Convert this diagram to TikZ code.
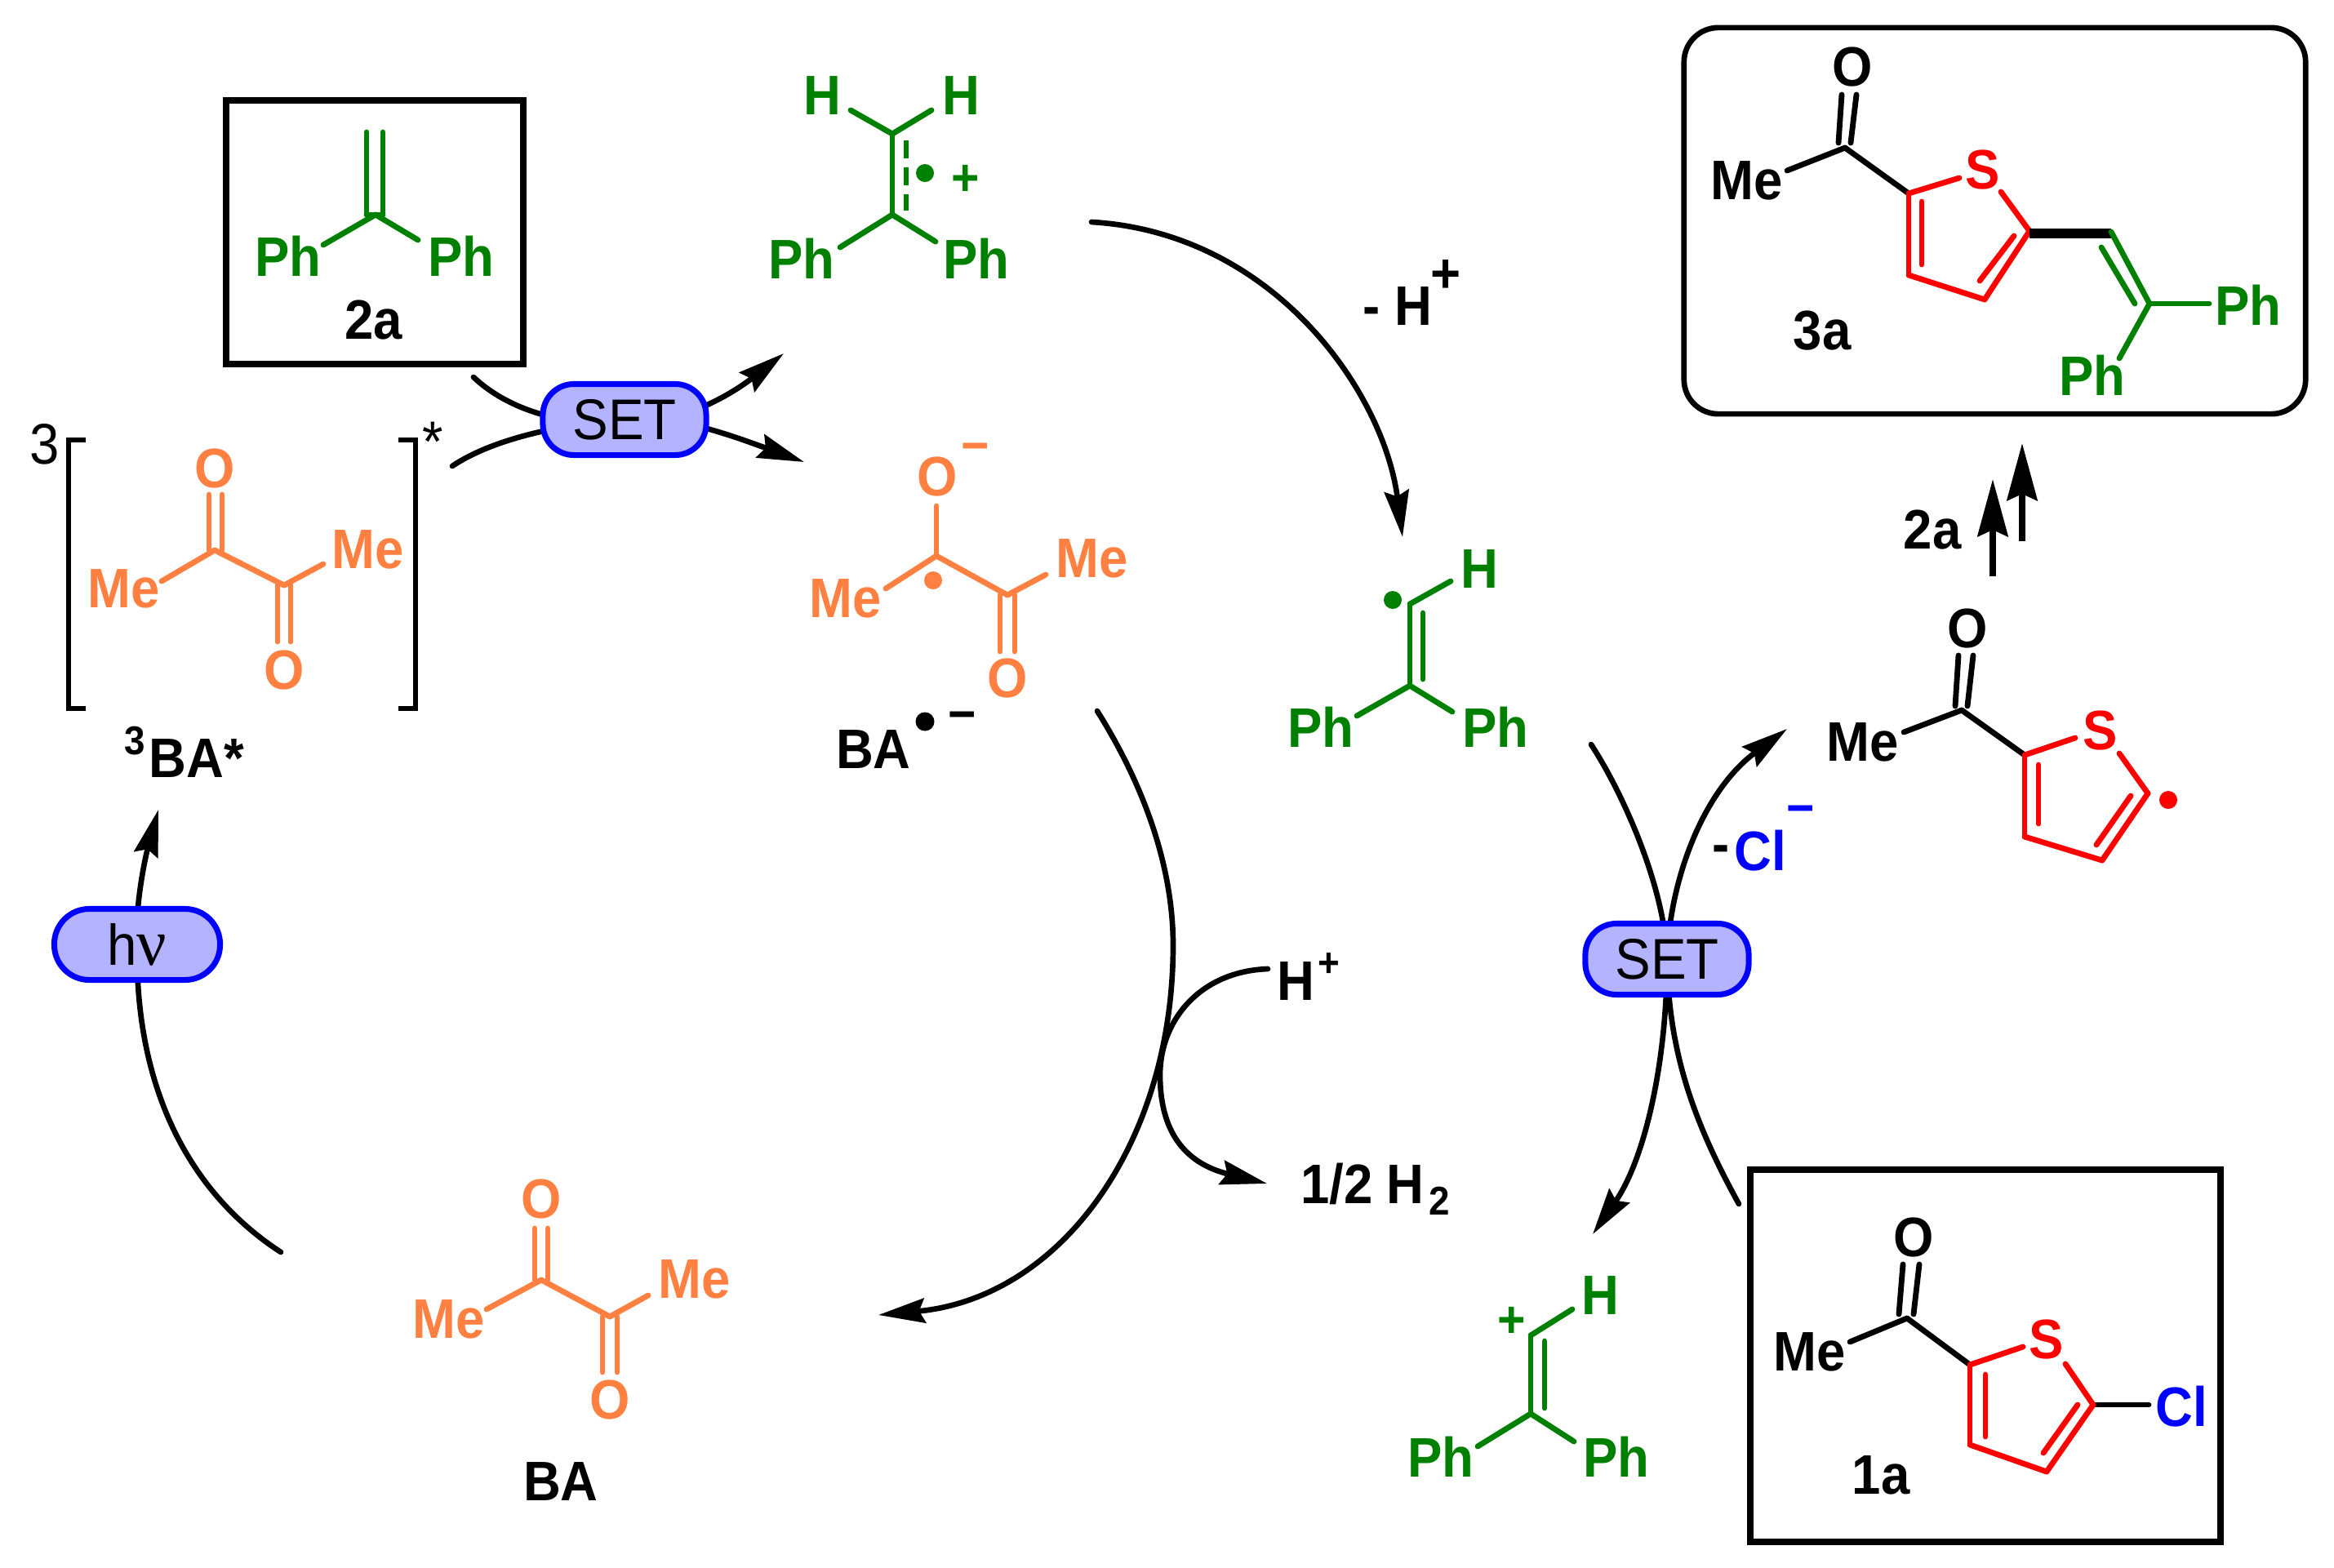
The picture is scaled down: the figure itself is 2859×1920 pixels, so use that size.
\documentclass[tikz,border=0pt]{standalone}
\usepackage{fontspec}
\usetikzlibrary{arrows.meta}
\newfontfamily\chemfont{Liberation Sans}[FakeStretch=0.93]
\newfontfamily\serifnu{Liberation Serif}
\definecolor{orng}{RGB}{255,128,64}
\definecolor{grn}{RGB}{0,128,0}
\definecolor{rd}{RGB}{255,0,0}
\definecolor{blu}{RGB}{0,0,255}
\definecolor{pillfill}{RGB}{179,179,255}
\newcommand\atoms[1]{\foreach \n/\x/\y in {#1} {\coordinate (\n) at (\x,\y);}}
\newcommand\bonds[2]{\foreach \a/\b in {#2} {\draw[bond,#1] (\a) -- (\b);}}
\tikzset{
 bond/.style={line width=1.95pt,line cap=round,line join=round},
 lab/.style={font=\chemfont\bfseries\fontsize{19.4}{19.4}\selectfont,inner sep=0pt,anchor=center},
 sm/.style={font=\chemfont\bfseries\fontsize{14}{14}\selectfont,inner sep=0pt},
 chg/.style={font=\chemfont\bfseries\fontsize{18}{18}\selectfont,inner sep=0pt},
 reg/.style={font=\chemfont\fontsize{20}{20}\selectfont,inner sep=0pt},
 dot/.style={circle,fill,inner sep=0pt,minimum size=0.22cm},
 pill/.style={draw=blu,fill=pillfill,line width=2pt,rounded corners=0.38cm,inner sep=0pt,minimum height=0.87cm},
 box/.style={draw=black,line width=2.2pt,inner sep=0pt},
 arc/.style={line width=1.9pt,line cap=round,-{Stealth[length=0.57cm,width=0.30cm,inset=0.07cm]}},
 arcn/.style={line width=1.9pt,line cap=round},
 strt/.style={line width=2.2pt,-{Stealth[length=0.70cm,width=0.37cm,inset=0.08cm]}}
}
\begin{document}
\begin{tikzpicture}[x=0.01cm,y=-0.01cm]
\useasboundingbox (0,0) rectangle (2859,1920);
% boxes
\node[box,minimum width=3.64cm,minimum height=3.23cm] (box2a) at (459,284.5) {};
\node[box,minimum width=5.76cm,minimum height=4.56cm] (box1a) at (2432,1661) {};
\node[box,line width=1.9pt,rounded corners=0.42cm,minimum width=7.61cm,minimum height=4.73cm] (box3a) at (2443.5,270.5) {};
% connectors
\atoms{set1c/765/514,set2c/2042/1175,hvc/168/1157,
 a1s/580/462,a2s/554/571,a1t/960/433,a2t/985/566,
 b1s/1337/272,b1t/1718/658,
 c1s/1344/871,c1m/1437/1158,c1t/1076/1611,
 d1s/1553/1187,d1m/1421/1317,d1t/1552/1450,
 e1s/344/1534,e1t/194/992,
 f1s/1949/912,f1t/2189/893,f2t/1951/1512,f2s/2130/1475,
 g1s/2441/706,g1t/2441/587,g2s/2477/663,g2t/2477/543}
\draw[arcn] (a1s) .. controls (620,500) and (690,525) .. (set1c);
\draw[arcn] (a2s) .. controls (600,540) and (680,520) .. (set1c);
\draw[arc] (set1c) .. controls (830,525) and (900,480) .. (a1t);
\draw[arc] (set1c) .. controls (820,505) and (900,535) .. (a2t);
\draw[arc] (b1s) .. controls (1560,285) and (1695,480) .. (b1t);
\draw[arc] (c1s) .. controls (1400,960) and (1437,1060) .. (c1m) .. controls (1437,1400) and (1300,1590) .. (c1t);
\draw[arc] (d1s) .. controls (1470,1190) and (1421,1250) .. (d1m) .. controls (1421,1385) and (1450,1425) .. (d1t);
\draw[arcn] (e1s) .. controls (230,1460) and (165,1330) .. (hvc);
\draw[arc] (hvc) .. controls (165,1110) and (178,1050) .. (e1t);
\draw[arcn] (f1s) .. controls (1990,975) and (2040,1090) .. (set2c);
\draw[arc] (set2c) .. controls (2045,1080) and (2085,970) .. (f1t);
\draw[arc] (set2c) .. controls (2042,1300) and (2015,1420) .. (f2t);
\draw[arcn] (f2s) .. controls (2075,1375) and (2044,1290) .. (set2c);
\draw[strt] (g1s) -- (g1t);
\draw[strt] (g2s) -- (g2t);
% pills
\node[pill,minimum width=2.0cm,reg] (set1) at (set1c) {SET};
\node[pill,minimum width=2.0cm,reg] (set2) at (set2c) {SET};
\node[pill,minimum width=2.03cm,reg,rounded corners=0.43cm] (hv) at (hvc) {h{\serifnu\fontsize{23}{23}\selectfont ν}};
% 2a
\atoms{p1/460/263,p2/449/162,p3/469/162,p4/449/263,p5/469/263,p6/396/300,p7/512/294}
\bonds{grn}{p2/p4,p3/p5,p1/p6,p1/p7,p4/p5}
\node[lab,grn] (ph1) at (353,314) {Ph};
\node[lab,grn] (ph2) at (565,314) {Ph};
\node[lab] (l2a) at (458,392) {2a};
% radical cation
\atoms{q1/1093/164,q2/1093/263,q3/1042/135,q4/1141/135,q5/1029/303,q6/1146/296,q7/1110/172,q8/1110/258}
\bonds{grn}{q1/q2,q1/q3,q1/q4,q2/q5,q2/q6}
\draw[bond,grn,line cap=butt,dash pattern=on 0.22cm off 0.11cm] (q7) -- (q8);
\node[lab,grn] (h1) at (1007,117) {H};
\node[lab,grn] (h2) at (1177,117) {H};
\node[lab,grn] (ph3) at (982,317) {Ph};
\node[lab,grn] (ph4) at (1196,317) {Ph};
\node[dot,grn] (dq) at (1133,212) {};
\node[chg,grn] (pq) at (1183,221) {+};
% 3BA*
\atoms{r1/263/674,r2/256/606,r3/272/606,r4/256/674,r5/272/674,r6/198/712,r7/348/717,r8/340/717,r9/356/717,r10/340/786,r11/356/786,r12/396/691}
\bonds{orng}{r2/r4,r3/r5,r1/r6,r1/r7,r8/r10,r9/r11,r7/r12}
\node[lab,orng] (o1) at (263,574) {O};
\node[lab,orng] (me1) at (152,721) {Me};
\node[lab,orng] (o2) at (348,821) {O};
\node[lab,orng] (me2) at (451,673) {Me};
\draw[line width=1.8pt] (105,539) -- (84,539) -- (84,868) -- (105,868);
\draw[line width=1.8pt] (488,539) -- (509,539) -- (509,868) -- (488,868);
\node[reg] (tr) at (55,544) {3};
\node[reg] (st) at (530,541) {*};
\node[sm] (sup3) at (165,908) {3};
\node[lab,anchor=west] (l3ba) at (182,929) {BA*};
% BA radical anion
\atoms{s1/1147/620,s2/1147/681,s3/1085/721,s4/1234/729,s5/1225/729,s6/1243/729,s7/1225/798,s8/1243/798,s9/1281/704}
\bonds{orng}{s1/s2,s2/s3,s2/s4,s5/s7,s6/s8,s4/s9}
\node[lab,orng] (o3) at (1148,584) {O};
\node[chg,orng] (mi1) at (1195,555) {−};
\node[lab,orng] (me3) at (1036,733) {Me};
\node[lab,orng] (me4) at (1338,684) {Me};
\node[lab,orng] (o4) at (1234,831) {O};
\node[dot,orng] (ds) at (1143,711) {};
\node[lab] (lba1) at (1070,918) {BA};
\node[dot,minimum size=0.23cm] (dl) at (1133,884) {};
\node[chg] (mi2) at (1179,884) {−};
% BA
\atoms{t1/663/1568,t2/655/1505,t3/671/1505,t4/655/1568,t5/671/1568,t6/596/1604,t7/747/1613,t8/738/1613,t9/756/1613,t10/738/1681,t11/756/1681,t12/794/1587}
\bonds{orng}{t2/t4,t3/t5,t1/t6,t1/t7,t8/t10,t9/t11,t7/t12}
\node[lab,orng] (o5) at (663,1469) {O};
\node[lab,orng] (me5) at (550,1616) {Me};
\node[lab,orng] (me6) at (851,1567) {Me};
\node[lab,orng] (o6) at (747,1715) {O};
\node[lab] (lba2) at (687,1815) {BA};
% vinyl radical
\atoms{u1/1727/740,u2/1777/712,u3/1727/840,u4/1743/751,u5/1743/832,u6/1662/877,u7/1779/872}
\bonds{grn}{u1/u2,u1/u3,u4/u5,u3/u6,u3/u7}
\node[dot,grn] (du) at (1706,735) {};
\node[lab,grn] (h3) at (1812,697) {H};
\node[lab,grn] (ph5) at (1618,891) {Ph};
\node[lab,grn] (ph6) at (1832,891) {Ph};
\node[lab] (mh) at (1712,375) {- H};
\node[lab] (ph) at (1771,338) {+};
% cation
\atoms{v1/1875/1636,v2/1926/1604,v3/1875/1732,v4/1892/1643,v5/1892/1725,v6/1810/1772,v7/1928/1766}
\bonds{grn}{v1/v2,v1/v3,v4/v5,v3/v6,v3/v7}
\node[lab,grn] (h4) at (1960,1587) {H};
\node[chg,grn] (pc) at (1852,1620) {+};
\node[lab,grn] (ph7) at (1765,1785) {Ph};
\node[lab,grn] (ph8) at (1980,1785) {Ph};
% H+ and H2
\node[lab] (hp) at (1587,1202) {H};
\node[sm] (hps) at (1628,1182) {+};
\node[lab] (h2t) at (1669,1450) {1/2 H};
\node[sm] (h2s) at (1763,1471) {2};
% 3a
\atoms{w1/2260/181,w2/2252/175,w3/2256/116,w4/2267/175,w5/2274/116,w6/2189/209,w7/2338/237,w8/2338/337,w9/2431/367,w10/2486/283,w11/2400/218,w12/2451/235,w13/2354/247,w14/2354/324,w15/2425/344,w16/2467/289,w17/2586/284,w18/2633/372,w19/2574/303,w20/2615/372,w21/2706/372,w22/2596/439,w23/2486/286,w24/2586/286}
\bonds{black}{w2/w3,w4/w5,w1/w6,w1/w7}
\bonds{rd}{w7/w8,w8/w9,w9/w10,w7/w11,w10/w12,w13/w14,w15/w16}
\draw[line width=3.6pt,line cap=butt] (w23) -- (w24);
\bonds{grn}{w17/w18,w19/w20,w18/w21,w18/w22}
\node[lab] (o7) at (2269,82) {O};
\node[lab] (me7) at (2140,221) {Me};
\node[lab,rd] (s1a) at (2429,208) {S};
\node[lab,grn] (ph9) at (2754,374) {Ph};
\node[lab,grn] (ph10) at (2563,460) {Ph};
\node[lab] (l3a) at (2232,405) {3a};
\node[lab] (l2b) at (2367,649) {2a};
% thienyl radical
\atoms{x1/2403/870,x2/2395/865,x3/2399/803,x4/2410/865,x5/2417/803,x6/2332/897,x7/2480/925,x8/2480/1025,x9/2575/1054,x10/2631/972,x11/2542/904,x12/2596/923,x13/2497/937,x14/2497/1009,x15/2568/1035,x16/2610/975}
\bonds{black}{x2/x3,x4/x5,x1/x6,x1/x7}
\bonds{rd}{x7/x8,x8/x9,x9/x10,x7/x11,x10/x12,x13/x14,x15/x16}
\node[lab] (o8) at (2410,770) {O};
\node[lab] (me8) at (2282,909) {Me};
\node[lab,rd] (s2a) at (2573,895) {S};
\node[dot,rd] (dx) at (2656,980) {};
\node[lab] (dash) at (2108,1047) {-};
\node[lab,blu] (cl1) at (2156,1042) {Cl};
\node[chg,blu] (mi3) at (2206,999) {−};
% 1a
\atoms{y1/2336/1615,y2/2326/1610,y3/2331/1549,y4/2344/1610,y5/2351/1549,y6/2266/1644,y7/2413/1672,y8/2413/1770,y9/2507/1803,y10/2564/1721,y11/2478/1650,y12/2530/1671,y13/2432/1684,y14/2432/1760,y15/2503/1780,y16/2545/1721,y17/2632/1721}
\bonds{black}{y2/y3,y4/y5,y1/y6,y1/y7,y10/y17}
\bonds{rd}{y7/y8,y8/y9,y9/y10,y7/y11,y10/y12,y13/y14,y15/y16}
\node[lab] (o9) at (2344,1516) {O};
\node[lab] (me9) at (2217,1656) {Me};
\node[lab,rd] (s3a) at (2507,1641) {S};
\node[lab,blu] (cl2) at (2672,1723) {Cl};
\node[lab] (l1a) at (2304,1807) {1a};
\end{tikzpicture}
\end{document}
